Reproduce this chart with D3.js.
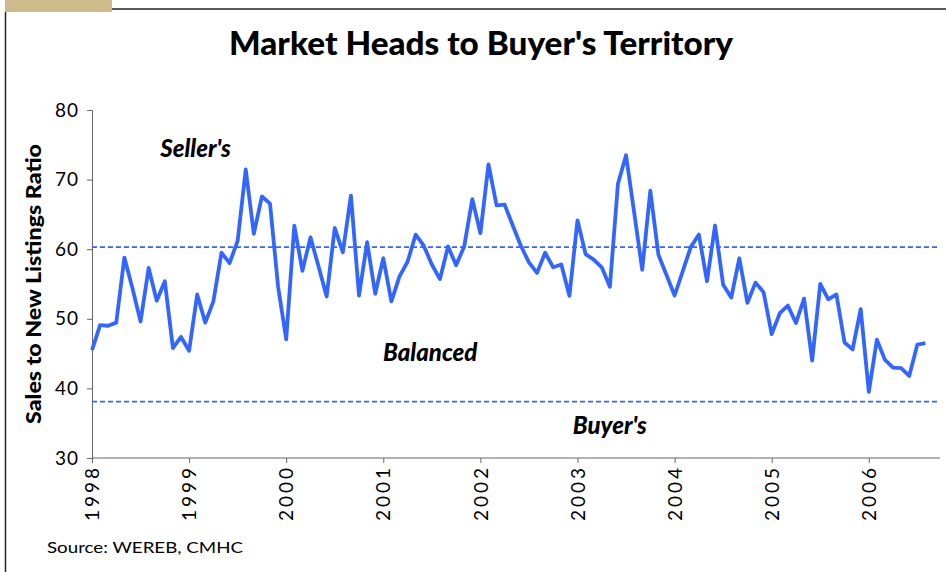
<!DOCTYPE html>
<html>
<head>
<meta charset="utf-8">
<script src="https://cdn.jsdelivr.net/npm/d3@7"></script>
<style>
  html, body { margin: 0; padding: 0; background: #fff; }
  svg { display: block; }
  text { font-family: Lato, "Open Sans", sans-serif; }
</style>
</head>
<body>
<script>
// ---- data ----
const yearLabels = ["1998","1999","2000","2001","2002","2003","2004","2005","2006"];
const yTicks = [30, 40, 50, 60, 70, 80];
// Monthly sales-to-new-listings ratio, Jan 1998 .. Aug 2006
const ratio = [
  45.5, 49.1, 49.0, 49.45, 58.8, 54.4, 49.6, 57.3, 52.6, 55.4, 45.8, 47.4,
  45.4, 53.5, 49.45, 52.5, 59.5, 58.0, 61.2, 71.45, 62.2, 67.6, 66.55, 54.6,
  47.05, 63.4, 56.9, 61.7, 57.5, 53.2, 63.05, 59.55, 67.7, 53.35, 61.0, 53.6,
  58.7, 52.5, 56.1, 58.2, 62.1, 60.5, 57.8, 55.7, 60.4, 57.7, 60.4, 67.2,
  62.3, 72.2, 66.3, 66.4, 63.4, 60.5, 58.1, 56.6, 59.5, 57.4, 57.8, 53.3,
  64.15, 59.3, 58.5, 57.4, 54.6, 69.4, 73.5, 65.3, 57.05, 68.4, 59.2, 56.3,
  53.35, 56.8, 60.3, 62.1, 55.4, 63.4, 54.9, 53.05, 58.7, 52.3, 55.2, 53.8,
  47.8, 50.8, 51.9, 49.4, 52.9, 44.0, 55.0, 52.8, 53.5, 46.6, 45.6, 51.4,
  39.5, 47.0, 44.1, 43.0, 42.9, 41.8, 46.3, 46.5
];
const thresholds = [60.3, 38.1];   // seller's / buyer's market boundaries
const zoneLabels = [
  { text: "Seller's", month: 12.8, value: 73.3 },
  { text: "Balanced", month: 41.8, value: 43.9 },
  { text: "Buyer's", month: 64.0, value: 33.4 }
];
const title = "Market Heads to Buyer's Territory";
const yTitle = "Sales to New Listings Ratio";
const source = "Source: WEREB, CMHC";

// ---- drawing ----
const W = 946, H = 572;
const blue = "#3366ff";
const svg = d3.select("body").append("svg").attr("width", W).attr("height", H);

// frame
svg.append("rect").attr("x", 5).attr("y", 0).attr("width", 107).attr("height", 12).attr("fill", "#cdbb8c");
svg.append("line").attr("x1", 112).attr("x2", W).attr("y1", 9).attr("y2", 9).attr("stroke", "#222").attr("stroke-width", 1.5);
svg.append("line").attr("x1", 5.5).attr("x2", 5.5).attr("y1", 12).attr("y2", H).attr("stroke", "#222").attr("stroke-width", 1.5);

const x = d3.scaleLinear().domain([0, 104.8]).range([92, 940]);
const y = d3.scaleLinear().domain([30, 80]).range([458, 110]);

// title
svg.append("text").attr("x", 481).attr("y", 55).attr("text-anchor", "middle")
  .attr("font-size", 32).attr("font-weight", 900).attr("fill", "#000")
  .attr("textLength", 504).attr("lengthAdjust", "spacingAndGlyphs").text(title);

// y axis
const yAxis = svg.append("g").attr("transform", `translate(${x(0)},0)`)
  .call(d3.axisLeft(y).tickValues(yTicks).tickSize(5).tickPadding(8).tickFormat(d3.format("d")));
yAxis.select(".domain").attr("stroke", "#666");
yAxis.selectAll(".tick line").attr("stroke", "#666");
yAxis.selectAll("text").attr("font-size", 19).attr("fill", "#000").style("font-family", "Lato, sans-serif")
  .style("letter-spacing", "1px");

// x axis
const xAxis = svg.append("g").attr("transform", `translate(0,${y(30)})`)
  .call(d3.axisBottom(x).tickValues(yearLabels.map((d, i) => i * 12)).tickSize(5)
    .tickFormat((d, i) => yearLabels[i]));
xAxis.select(".domain").attr("stroke", "#666").attr("d", `M${x(0)},0H${x(104.8)}`);
xAxis.selectAll(".tick line").attr("stroke", "#666");
xAxis.selectAll("text").attr("font-size", 19).attr("fill", "#000").style("font-family", "Lato, sans-serif")
  .style("letter-spacing", "3px")
  .attr("transform", "rotate(-90)").attr("text-anchor", "end")
  .attr("x", -7).attr("y", 0).attr("dy", "0.35em");

// y title
svg.append("text").attr("transform", `translate(41,${y(55)}) rotate(-90)`).attr("text-anchor", "middle")
  .attr("font-size", 21).attr("font-weight", 900).attr("fill", "#000")
  .attr("textLength", 280).attr("lengthAdjust", "spacingAndGlyphs").text(yTitle);

// threshold dashed lines
svg.selectAll(".thr").data(thresholds).join("line").attr("class", "thr")
  .attr("x1", x(0)).attr("x2", x(104.8)).attr("y1", d => y(d)).attr("y2", d => y(d))
  .attr("stroke", blue).attr("stroke-width", 1.6).attr("stroke-dasharray", "5,3");

// series line
const line = d3.line().x((d, i) => x(i)).y(d => y(d));
svg.append("path").datum(ratio).attr("d", line).attr("fill", "none")
  .attr("stroke", blue).attr("stroke-width", 3.8).attr("stroke-linejoin", "round");

// zone labels
svg.selectAll(".zone").data(zoneLabels).join("text").attr("class", "zone")
  .attr("x", d => x(d.month)).attr("y", d => y(d.value)).attr("text-anchor", "middle")
  .attr("font-size", 24).attr("font-weight", 900).attr("font-style", "italic").attr("fill", "#000")
  .text(d => d.text);

// source
svg.append("text").attr("x", 47).attr("y", 553).attr("font-size", 16).attr("fill", "#000")
  .attr("textLength", 196).attr("lengthAdjust", "spacingAndGlyphs").text(source);
</script>
</body>
</html>
